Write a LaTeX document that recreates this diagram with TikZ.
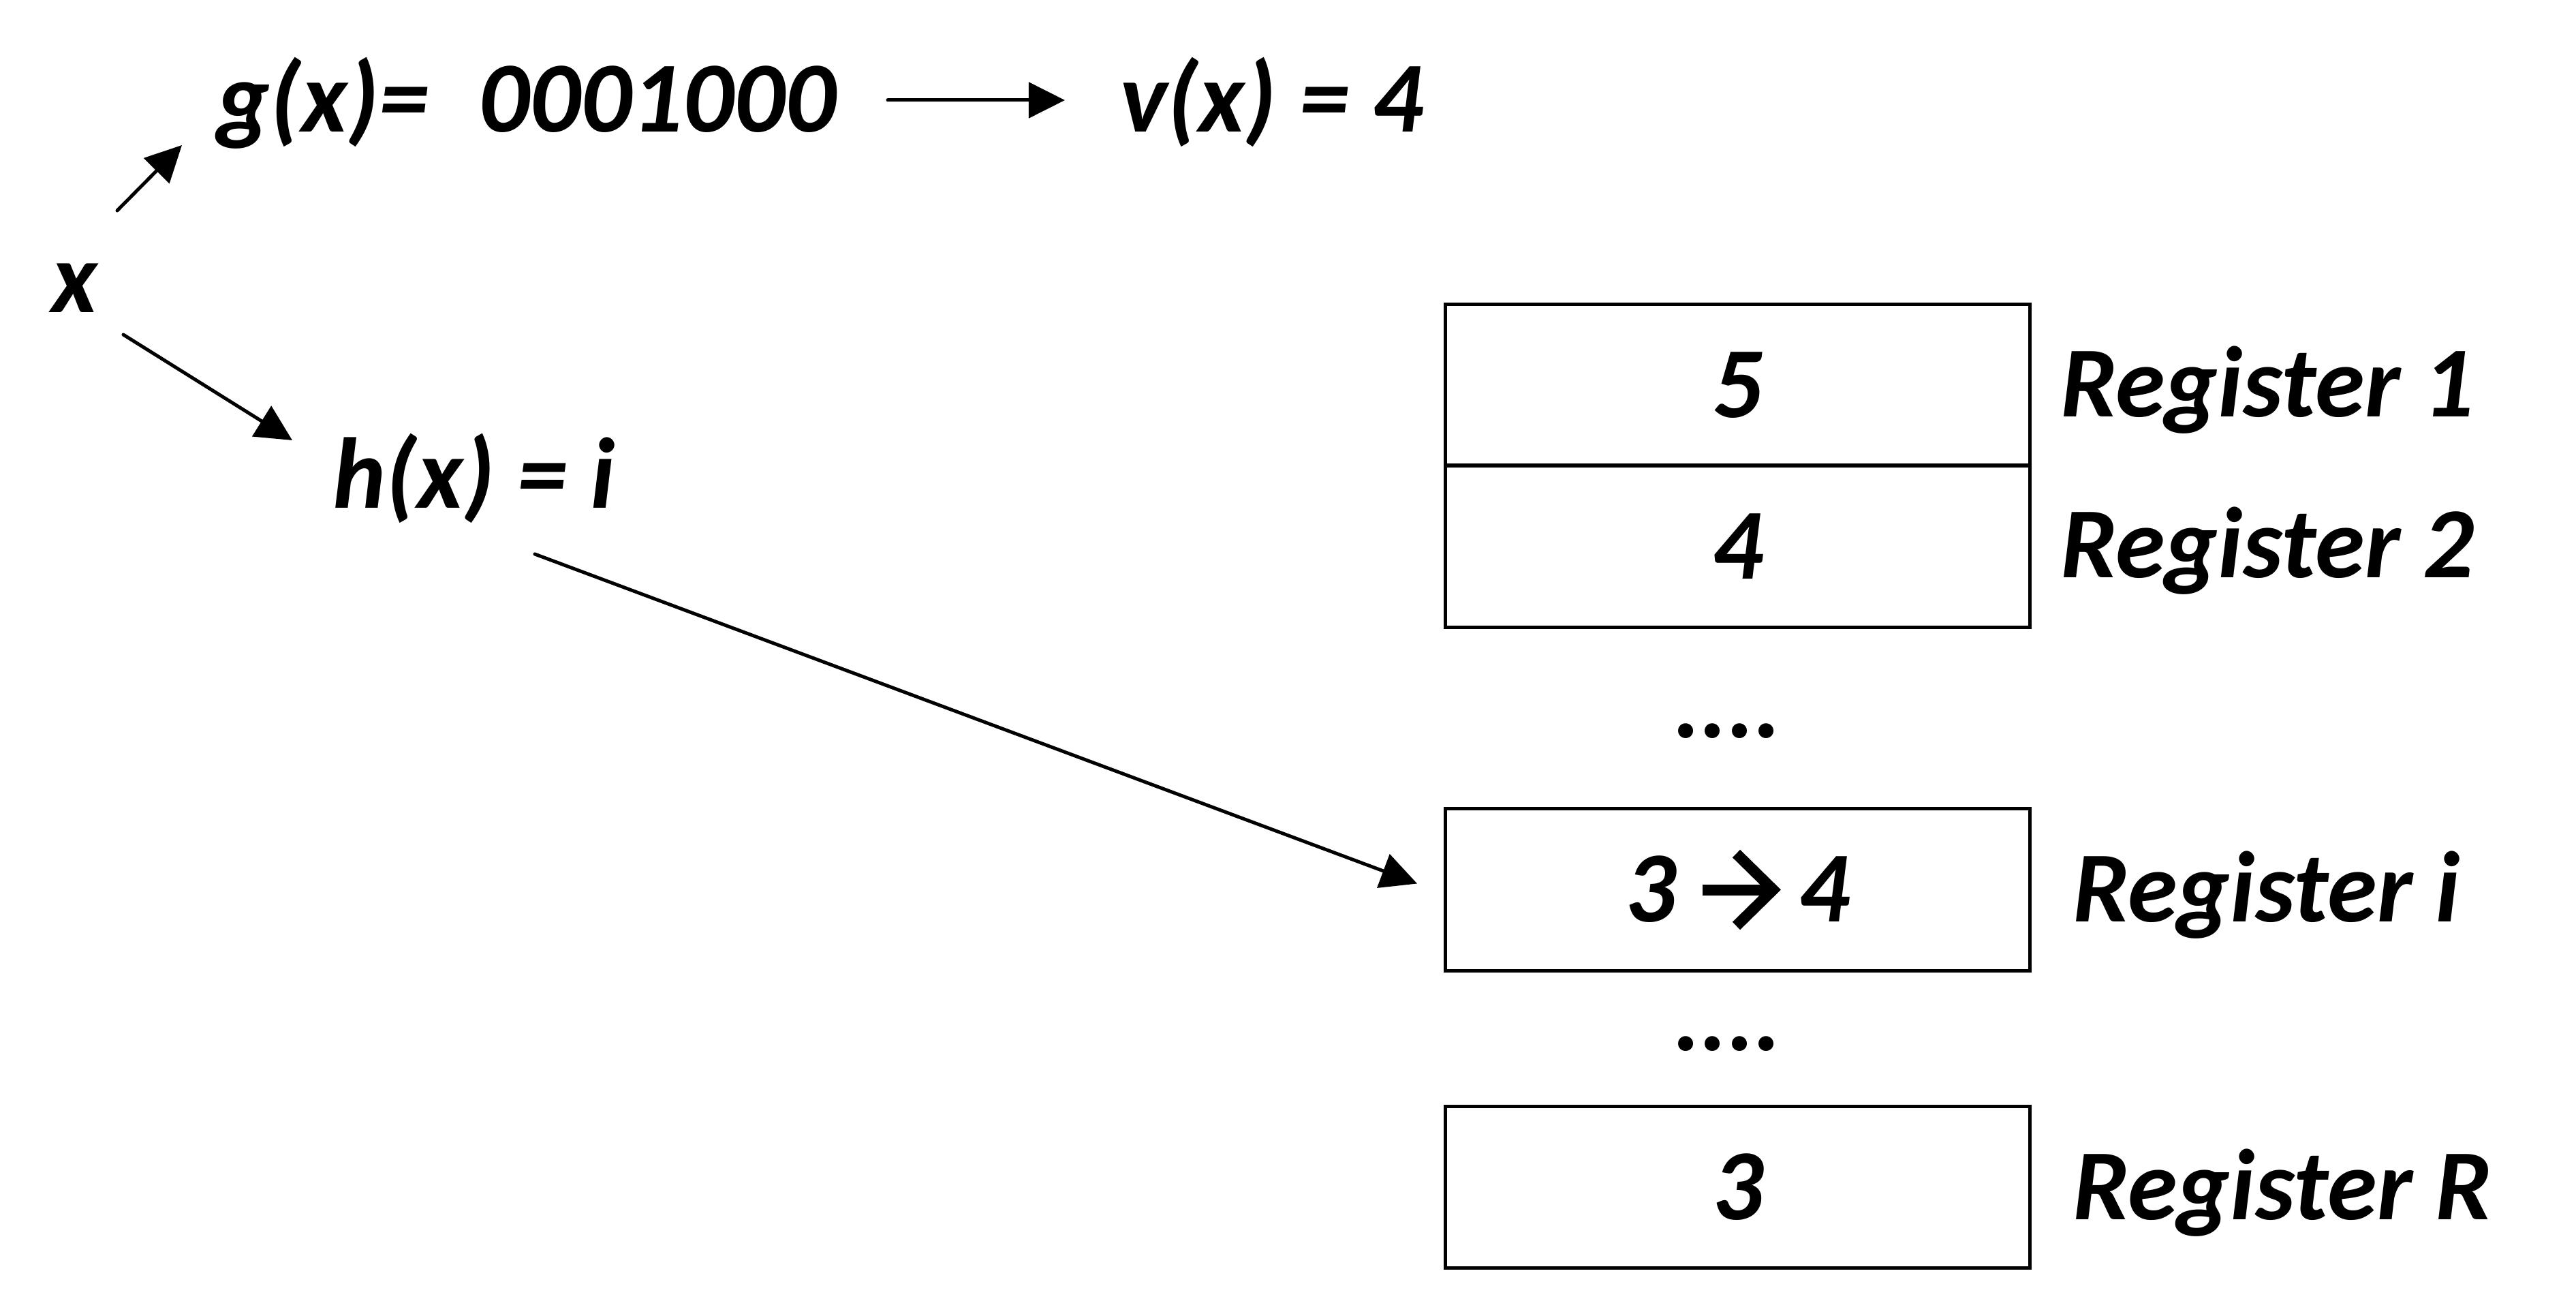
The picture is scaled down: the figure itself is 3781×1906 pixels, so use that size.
\documentclass[tikz,border=0pt]{standalone}
\usepackage{fontspec}
\setmainfont{Carlito}
\usetikzlibrary{arrows.meta}
\newcommand{\chevarrow}{\tikz[baseline=0pt,x=0.01cm,y=0.01cm,line width=0.16cm]{\draw (0,47)--(100,47); \draw[miter limit=10] (50,100)--(104,47)--(50,-6);}}
\begin{document}
\begin{tikzpicture}[x=0.01cm,y=-0.01cm,
  font=\fontsize{42}{50}\selectfont\bfseries\itshape,
  line width=0.05cm,
  arr/.style={line cap=round,-{Triangle[length=0.53cm,width=0.52cm]}},
  lbl/.style={anchor=base west, inner sep=0pt},
  reg/.style={draw, minimum width=8.57cm, minimum height=2.37cm, inner sep=0pt}]
\useasboundingbox (0,0) rectangle (3781,1906);
\node[lbl] (x) at (73,458) {x};
\node[lbl] (g) at (316,194) {g(x)=\hspace{0.73cm}0001000};
\node[lbl] (v) at (1642,194) {v(x) = 4};
\node[lbl] (h) at (486,745) {h(x) = i};
\node[reg] (r1) at (2550.5,565) {5};
\node[reg] (r2) at (2550.5,801.5) {4};
\node[lbl] (d1) at (2455,1082) {....};
\node[reg] (ri) at (2550.5,1305.5) {3\hspace{0.3cm}\chevarrow\hspace{0.3cm}4};
\node[lbl] (d2) at (2455,1541) {....};
\node[reg] (rR) at (2550.5,1742) {3};
\node[lbl] (l1) at (3022,611) {Register 1};
\node[lbl] (l2) at (3022,847) {Register 2};
\node[lbl] (li) at (3040,1352) {Register i};
\node[lbl] (lR) at (3040,1789) {Register R};
\draw[arr] ([shift={(99,-149)}]x.base west) -- ([shift={(-49,19)}]g.base west);
\draw[arr] ([shift={(987,-47)}]g.base west) -- ([shift={(-79,-47)}]v.base west);
\draw[arr] ([shift={(108,33)}]x.base west) -- ([shift={(-57,-99)}]h.base west);
\draw[arr] ([shift={(299,68)}]h.base west) -- ([shift={(-41,-9)}]ri.west);
\end{tikzpicture}
\end{document}
